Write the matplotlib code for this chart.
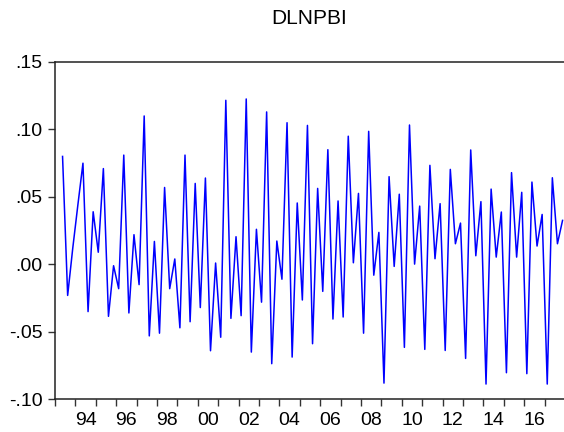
import matplotlib
matplotlib.use("Agg")
import matplotlib.pyplot as plt
import numpy as np

plt.rcParams["font.family"] = ["Liberation Sans", "DejaVu Sans"]

TITLE = "DLNPBI"
START_YEAR = 1993
START_QUARTER = 2  # first observation: 1993Q2, last: 2017Q4

# quarterly values
dlnpbi = [
    0.080, -0.023, 0.012, 0.044, 0.075, -0.035, 0.039, 0.009, 0.071, -0.0385,
    -0.001, -0.018, 0.081, -0.036, 0.022, -0.015, 0.110, -0.053, 0.017, -0.051,
    0.057, -0.018, 0.004, -0.047, 0.081, -0.0425, 0.060, -0.032, 0.064, -0.064,
    0.001, -0.054, 0.1216, -0.040, 0.0205, -0.038, 0.1226, -0.065, 0.026, -0.028,
    0.113, -0.0736, 0.0173, -0.011, 0.105, -0.0687, 0.0455, -0.0264, 0.103, -0.0588,
    0.0563, -0.020, 0.085, -0.0405, 0.047, -0.039, 0.095, 0.0012, 0.0526, -0.051,
    0.0986, -0.008, 0.0237, -0.088, 0.065, -0.0015, 0.052, -0.0615, 0.1033, 0.0002,
    0.0432, -0.063, 0.0734, 0.0042, 0.045, -0.0638, 0.0704, 0.0153, 0.0306, -0.0697,
    0.0848, 0.0064, 0.0465, -0.0887, 0.0558, 0.0054, 0.0388, -0.0803, 0.068, 0.0054,
    0.0534, -0.081, 0.061, 0.0136, 0.037, -0.0887, 0.0642, 0.0153, 0.0326,
]

y_ticks = [-0.10, -0.05, 0.00, 0.05, 0.10, 0.15]
y_labels = ["-.10", "-.05", ".00", ".05", ".10", ".15"]
year_labels = [1994, 1996, 1998, 2000, 2002, 2004, 2006, 2008,
               2010, 2012, 2014, 2016]

# observation i sits in the middle of its quarter
n = len(dlnpbi)
q0 = START_YEAR + (START_QUARTER - 1) / 4
x = q0 + 0.125 + np.arange(n) * 0.25

fig = plt.figure(figsize=(5.64, 4.32), dpi=100)
ax = fig.add_axes([54.9 / 564, 1 - 399.3 / 432, 510.2 / 564, 337.3 / 432])

ax.plot(x, dlnpbi, color="#0000FF", linewidth=1.1)

ax.set_xlim(1993, 2018)
ax.set_ylim(-0.10, 0.15)

ax.set_yticks(y_ticks)
ax.set_yticklabels(y_labels)

# year boundaries get tick marks, labels sit centred in the year
ax.set_xticks(np.arange(1993, 2019))
ax.set_xticklabels([])
ax.set_xticks([y + 0.5 for y in year_labels], minor=True)
ax.set_xticklabels([f"{y % 100:02d}" for y in year_labels], minor=True)

ax.tick_params(axis="both", which="major", direction="out", length=5,
               width=1.0, color="#333333", labelsize=14, pad=4)
ax.tick_params(axis="x", which="minor", length=0, labelsize=14, pad=9.5)

for s in ax.spines.values():
    s.set_linewidth(1.1)
    s.set_color("#222222")

fig.text(309 / 564, 1 - 18 / 432, TITLE, ha="center", va="center", fontsize=15)

fig.savefig("out.png", dpi=100)
